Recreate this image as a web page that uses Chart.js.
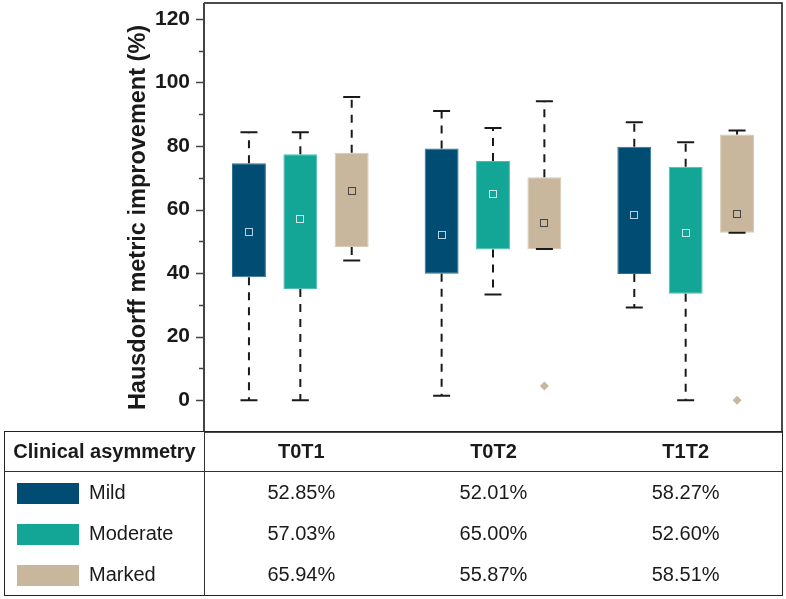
<!DOCTYPE html>
<html>
<head>
<meta charset="utf-8">
<script src="https://cdn.jsdelivr.net/npm/chart.js@4.4.0/dist/chart.umd.min.js"></script>
<style>
    body { margin: 0; background: #fff; font-family: "Liberation Sans", Arial, sans-serif; }
    #wrap { position: relative; width: 786px; height: 599px; }
    #chartBox { position: absolute; left: 0; top: 0; width: 786px; height: 436px; }
    #tbl { position: absolute; left: 4px; top: 431px; width: 779px; height: 164px;
           border-collapse: collapse; border: 1.5px solid #222; color: #1a1a1a; }
    #tbl th { font-weight: bold; font-size: 20px; height: 39px; border-bottom: 1px solid #333; text-align: center; padding: 0; }
    #tbl td { font-size: 20px; text-align: center; padding: 0; height: 41px; }
    #tbl .first { width: 199px; border-right: 1px solid #333; }
    #tbl td.first { text-align: left; }
    .sw { display: inline-block; width: 62px; height: 21px; margin-left: 12px; margin-right: 10px; vertical-align: middle; }
    .lab { vertical-align: middle; }
</style>
</head>
<body>
<div id="wrap">
    <div id="chartBox"><canvas id="chart"></canvas></div>
    <table id="tbl"></table>
</div>
<script>
    // categories and series
    var groups = ['T0T1', 'T0T2', 'T1T2'];
    var series = ['Mild', 'Moderate', 'Marked'];
    var yTicks = [0, 20, 40, 60, 80, 100, 120];
    var yMinor = [10, 30, 50, 70, 90, 110];

    // box statistics, one value per group
    var mildQ1 = [38.7, 39.8, 39.7];
    var mildQ3 = [74.6, 79.2, 79.8];
    var mildMin = [0, 1.4, 29.2];
    var mildMax = [84.3, 91.0, 87.5];
    var mildMean = [52.85, 52.01, 58.27];
    var mildOut = [[], [], []];

    var moderateQ1 = [35.0, 47.4, 33.5];
    var moderateQ3 = [77.4, 75.3, 73.5];
    var moderateMin = [0, 33.3, 0];
    var moderateMax = [84.3, 85.7, 81.2];
    var moderateMean = [57.03, 65.00, 52.60];
    var moderateOut = [[], [], []];

    var markedQ1 = [48.2, 47.6, 52.7];
    var markedQ3 = [77.9, 70.2, 83.6];
    var markedMin = [44.0, 47.6, 52.7];
    var markedMax = [95.4, 94.1, 84.9];
    var markedMean = [65.94, 55.87, 58.51];
    var markedOut = [[], [4.5], [0]];

    var fillColors = ['#004c73', '#13a596', '#c8b79c'];
    var edgeColors = ['#2f6f92', '#4dbdb0', '#d8cab4'];
    var meanColors = ['#b9d0de', '#c8ece6', '#444444'];

    var stats = [
        { q1: mildQ1, q3: mildQ3, lo: mildMin, hi: mildMax, mean: mildMean, out: mildOut },
        { q1: moderateQ1, q3: moderateQ3, lo: moderateMin, hi: moderateMax, mean: moderateMean, out: moderateOut },
        { q1: markedQ1, q3: markedQ3, lo: markedMin, hi: markedMax, mean: markedMean, out: markedOut }
    ];

    var FONT = '"Liberation Sans", Arial, sans-serif';

    // whiskers, means, outliers and the frame, placed with the chart's own scales
    var boxExtras = {
        id: 'boxExtras',
        afterDatasetsDraw: function (chart) {
            var ctx = chart.ctx;
            var y = chart.scales.y;
            chart.data.datasets.forEach(function (ds, di) {
                var meta = chart.getDatasetMeta(di);
                var s = stats[di];
                meta.data.forEach(function (bar, i) {
                    var x = bar.x;
                    var yq1 = y.getPixelForValue(s.q1[i]);
                    var yq3 = y.getPixelForValue(s.q3[i]);
                    var ylo = y.getPixelForValue(s.lo[i]);
                    var yhi = y.getPixelForValue(s.hi[i]);
                    ctx.save();
                    ctx.strokeStyle = '#1a1a1a';
                    ctx.lineWidth = 2;
                    ctx.setLineDash([8, 7]);
                    ctx.beginPath();
                    ctx.moveTo(x, yq3); ctx.lineTo(x, yhi);
                    ctx.moveTo(x, yq1); ctx.lineTo(x, ylo);
                    ctx.stroke();
                    ctx.setLineDash([]);
                    ctx.beginPath();
                    ctx.moveTo(x - 8.5, yhi); ctx.lineTo(x + 8.5, yhi);
                    ctx.moveTo(x - 8.5, ylo); ctx.lineTo(x + 8.5, ylo);
                    ctx.stroke();

                    // mean marker
                    var ym = y.getPixelForValue(s.mean[i]);
                    ctx.lineWidth = 1;
                    ctx.strokeStyle = meanColors[di];
                    ctx.strokeRect(Math.round(x) - 3.5, Math.round(ym) - 3.5, 7, 7);

                    // outliers
                    ctx.fillStyle = fillColors[di];
                    s.out[i].forEach(function (v) {
                        var yo = y.getPixelForValue(v);
                        ctx.beginPath();
                        ctx.moveTo(x, yo - 4.5);
                        ctx.lineTo(x + 4.5, yo);
                        ctx.lineTo(x, yo + 4.5);
                        ctx.lineTo(x - 4.5, yo);
                        ctx.closePath();
                        ctx.fill();
                    });
                    ctx.restore();
                });
            });
        },
        afterDraw: function (chart) {
            var ctx = chart.ctx;
            var a = chart.chartArea;
            var y = chart.scales.y;
            ctx.save();
            ctx.strokeStyle = '#111';
            ctx.lineWidth = 1.5;
            ctx.beginPath();
            ctx.moveTo(a.left, a.top); ctx.lineTo(a.right, a.top);
            ctx.lineTo(a.right, a.bottom);
            ctx.moveTo(a.left, a.bottom); ctx.lineTo(a.right, a.bottom);
            ctx.stroke();
            ctx.strokeStyle = '#444';
            ctx.lineWidth = 2;
            ctx.beginPath();
            ctx.moveTo(a.left, a.top); ctx.lineTo(a.left, a.bottom);
            ctx.stroke();
            ctx.lineWidth = 1.5;
            ctx.beginPath();
            yTicks.forEach(function (v) {
                var p = Math.round(y.getPixelForValue(v)) + 0.5;
                ctx.moveTo(a.left - 8, p); ctx.lineTo(a.left, p);
            });
            yMinor.forEach(function (v) {
                var p = Math.round(y.getPixelForValue(v)) + 0.5;
                ctx.moveTo(a.left - 5, p); ctx.lineTo(a.left, p);
            });
            ctx.stroke();
            ctx.restore();
        }
    };

    var datasets = series.map(function (name, di) {
        return {
            label: name,
            data: groups.map(function (g, i) { return [stats[di].q1[i], stats[di].q3[i]]; }),
            backgroundColor: fillColors[di],
            borderColor: edgeColors[di],
            borderWidth: 1,
            borderSkipped: false,
            categoryPercentage: 0.8,
            barPercentage: 0.66
        };
    });

    new Chart(document.getElementById('chart').getContext('2d'), {
        type: 'bar',
        data: { labels: groups, datasets: datasets },
        options: {
            responsive: true,
            maintainAspectRatio: false,
            animation: false,
            layout: { padding: { left: 0, right: 4, top: 3, bottom: 4 } },
            plugins: { legend: { display: false }, tooltip: { enabled: false } },
            scales: {
                x: { display: false },
                y: {
                    min: -10,
                    max: 125,
                    afterBuildTicks: function (scale) {
                        scale.ticks = yTicks.map(function (v) { return { value: v }; });
                    },
                    afterFit: function (scale) {
                        scale.width = 204;
                        scale.paddingTop = 0;
                        scale.paddingBottom = 0;
                    },
                    grid: { display: false, drawTicks: false },
                    border: { display: false },
                    ticks: {
                        padding: 14,
                        color: '#1a1a1a',
                        font: { family: FONT, size: 21, weight: 'bold' }
                    },
                    title: {
                        display: true,
                        text: 'Hausdorff metric improvement (%)',
                        color: '#1a1a1a',
                        font: { family: FONT, size: 23.5, weight: 'bold', lineHeight: 1.2 },
                        padding: { top: 124, bottom: 0 }
                    }
                }
            }
        },
        plugins: [boxExtras]
    });

    // summary table underneath
    var tbl = document.getElementById('tbl');
    var head = '<tr><th class="first">Clinical asymmetry</th>';
    groups.forEach(function (g) { head += '<th>' + g + '</th>'; });
    head += '</tr>';
    var body = '';
    series.forEach(function (name, di) {
        body += '<tr><td class="first"><span class="sw" style="background:' + fillColors[di] + '"></span><span class="lab">' + name + '</span></td>';
        stats[di].mean.forEach(function (m) { body += '<td>' + m.toFixed(2) + '%</td>'; });
        body += '</tr>';
    });
    tbl.innerHTML = head + body;
</script>
</body>
</html>
